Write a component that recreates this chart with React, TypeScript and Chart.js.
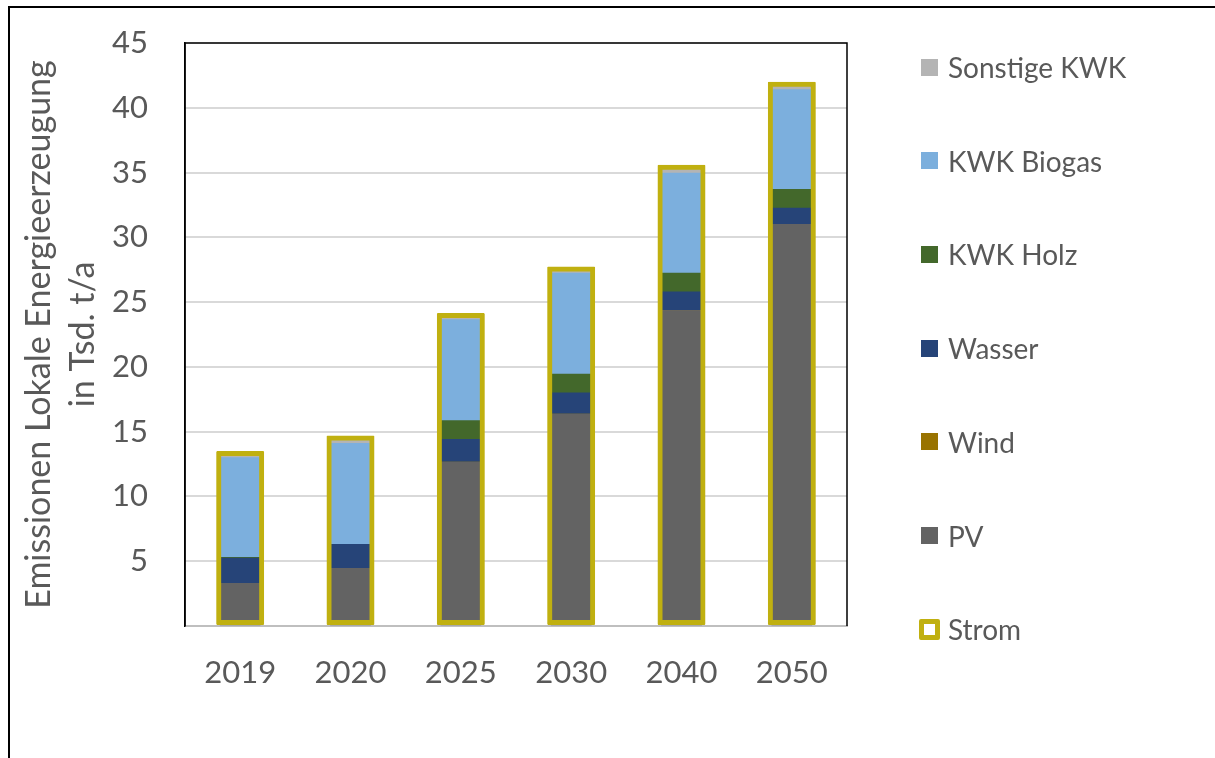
import React, { useEffect, useRef } from 'react';
import { Chart, registerables } from 'chart.js';

Chart.register(...registerables);

const categories = ['2019', '2020', '2025', '2030', '2040', '2050'];
const pv = [3.3, 4.45, 12.65, 16.35, 24.35, 31.0];
const wind = [0, 0, 0, 0, 0, 0];
const wasser = [1.95, 1.85, 1.75, 1.65, 1.45, 1.25];
const kwkHolz = [0.05, 0, 1.45, 1.45, 1.45, 1.45];
const kwkBiogas = [7.7, 7.8, 7.8, 7.8, 7.7, 7.7];
const sonstigeKwk = [0.3, 0.25, 0.25, 0.3, 0.3, 0.3];
const strom = [13.5, 14.7, 24.15, 27.75, 35.6, 42.0];

const yMax = 45;
const yStep = 5;
const axisTitle = ['Emissionen Lokale Energieerzeugung', 'in Tsd. t/a'];

const FONT = 'Lato, "Open Sans", sans-serif';
const TEXT = '#595959';

const stackSeries = [
  { label: 'PV', data: pv, color: '#636363' },
  { label: 'Wind', data: wind, color: '#997300' },
  { label: 'Wasser', data: wasser, color: '#264478' },
  { label: 'KWK Holz', data: kwkHolz, color: '#43682B' },
  { label: 'KWK Biogas', data: kwkBiogas, color: '#7CAFDD' },
  { label: 'Sonstige KWK', data: sonstigeKwk, color: '#B4B4B4' },
];
const stromColor = '#C0B010';

const plotFrame = {
  id: 'plotFrame',
  beforeDatasetsDraw(chart: any) {
    const { ctx, chartArea } = chart;
    const { left, top, right, bottom } = chartArea;
    ctx.save();
    ctx.strokeStyle = '#000';
    ctx.lineWidth = 1.5;
    ctx.beginPath();
    ctx.moveTo(left, bottom);
    ctx.lineTo(left, top);
    ctx.lineTo(right, top);
    ctx.lineTo(right, bottom);
    ctx.stroke();
    ctx.restore();
  },
};

export default function App() {
  const ref = useRef<HTMLCanvasElement>(null);

  useEffect(() => {
    const datasets: any[] = [
      {
        label: 'Strom',
        data: strom,
        stack: 'strom',
        grouped: false,
        order: -1,
        backgroundColor: 'rgba(0,0,0,0)',
        borderColor: stromColor,
        borderWidth: 5,
        borderSkipped: false,
        borderRadius: 1,
        categoryPercentage: 1,
        barPercentage: 0.9,
        maxBarThickness: 48,
      },
      ...stackSeries.map((s) => ({
        label: s.label,
        data: s.data,
        stack: 'main',
        backgroundColor: s.color,
        borderWidth: 0,
        barThickness: 40,
      })),
    ];

    const chart = new Chart(ref.current as HTMLCanvasElement, {
      type: 'bar',
      data: { labels: categories, datasets },
      options: {
        responsive: false,
        animation: false,
        devicePixelRatio: 1,
        layout: { padding: { top: 43, right: 368, left: 0, bottom: 0 } },
        plugins: {
          legend: { display: false },
          tooltip: { enabled: false },
        },
        scales: {
          x: {
            stacked: true,
            grid: { display: false, drawTicks: false },
            border: { color: '#BFBFBF', width: 2 },
            ticks: {
              font: { family: FONT, size: 31 },
              color: TEXT,
              padding: 28,
            },
            afterFit: (s: any) => {
              s.height = 132;
            },
          },
          y: {
            stacked: true,
            min: 0,
            max: yMax,
            ticks: {
              stepSize: yStep,
              font: { family: FONT, size: 31 },
              color: TEXT,
              padding: 0,
              callback: (v: any) => (Number(v) === 0 ? '' : String(v)),
            },
            grid: {
              color: '#D9D9D9',
              lineWidth: 2,
              drawTicks: true,
              tickLength: 37,
              tickColor: 'rgba(0,0,0,0)',
            },
            border: { color: '#000', width: 1.5 },
            title: {
              display: true,
              text: axisTitle,
              color: TEXT,
              font: { family: FONT, size: 34, lineHeight: 1.3 },
              padding: { top: 17, bottom: 0 },
            },
            afterFit: (s: any) => {
              s.width = 185;
            },
          },
        },
      },
      plugins: [plotFrame],
    } as any);
    return () => chart.destroy();
  }, []);

  const legendItems = [
    ...stackSeries.slice().reverse().map((s) => ({ label: s.label, color: s.color, outline: false })),
    { label: 'Strom', color: stromColor, outline: true },
  ];

  return (
    <div
      style={{
        position: 'absolute',
        left: 0,
        top: 0,
        width: 1215,
        height: 758,
        overflow: 'hidden',
        background: '#fff',
      }}
    >
      <canvas
        ref={ref}
        width={1215}
        height={758}
        style={{ position: 'absolute', left: 0, top: 0, width: 1215, height: 758 }}
      />
      <div style={{ position: 'absolute', left: 8, top: 6, width: 1210, height: 2, background: '#000' }} />
      <div style={{ position: 'absolute', left: 8, top: 6, width: 2, height: 760, background: '#000' }} />
      {legendItems.map((it, i) => {
        const cy = 67 + i * 93.7;
        return (
          <div
            key={it.label}
            style={{
              position: 'absolute',
              left: 919,
              top: cy - 20,
              height: 40,
              display: 'flex',
              alignItems: 'center',
              fontFamily: FONT,
              fontSize: 28,
              color: TEXT,
              whiteSpace: 'nowrap',
            }}
          >
            {it.outline ? (
              <span
                style={{
                  display: 'inline-block',
                  width: 11,
                  height: 11,
                  border: `5px solid ${it.color}`,
                  borderRadius: 2,
                  marginRight: 8,
                }}
              />
            ) : (
              <span
                style={{
                  display: 'inline-block',
                  width: 17,
                  height: 17,
                  marginLeft: 2,
                  background: it.color,
                  marginRight: 10,
                }}
              />
            )}
            <span>{it.label}</span>
          </div>
        );
      })}
    </div>
  );
}
